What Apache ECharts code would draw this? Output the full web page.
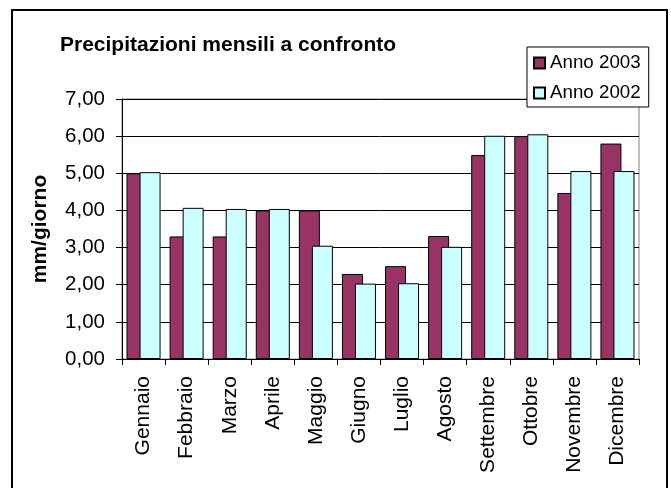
<!DOCTYPE html>
<html>
<head>
<meta charset="utf-8">
<title>Precipitazioni mensili a confronto</title>
<script src="https://cdn.jsdelivr.net/npm/echarts@6/dist/echarts.min.js"></script>
<style>
  html, body { margin: 0; padding: 0; background: #fff; }
  #main { width: 671px; height: 488px; }
</style>
</head>
<body>
<div id="main"></div>
<script>
// mesi
var mesi = ['Gennaio', 'Febbraio', 'Marzo', 'Aprile', 'Maggio', 'Giugno',
  'Luglio', 'Agosto', 'Settembre', 'Ottobre', 'Novembre', 'Dicembre'];
// mm/giorno
var anno2003 = [5.00, 3.30, 3.30, 4.00, 4.00, 2.29, 2.50, 3.31, 5.49, 6.00, 4.47, 5.80];
var anno2002 = [5.03, 4.07, 4.04, 4.04, 3.05, 2.03, 2.04, 3.02, 6.01, 6.05, 5.06, 5.06];
var yTicks = [0, 7, 1]; // min, max, passo

var font = 'Liberation Sans, Arial, sans-serif';
var myChart = echarts.init(document.getElementById('main'));

var option = {
  backgroundColor: '#fff',
  animation: false,
  title: {
    text: 'Precipitazioni mensili a confronto',
    left: 60,
    top: 35,
    padding: 0,
    textStyle: { fontFamily: font, fontSize: 21, fontWeight: 'bold', color: '#000' }
  },
  legend: {
    orient: 'vertical',
    left: 527,
    top: 47,
    padding: [6, 8, 4, 6],
    itemGap: 10,
    itemWidth: 11,
    itemHeight: 11,
    icon: 'rect',
    backgroundColor: '#fff',
    borderColor: '#000',
    borderWidth: 1,
    textStyle: { fontFamily: font, fontSize: 18.75, color: '#000', lineHeight: 20 },
    data: ['Anno 2003', 'Anno 2002']
  },
  grid: {
    left: 122,
    top: 99,
    right: 32,
    bottom: 129,
    show: true,
    borderColor: '#808080',
    borderWidth: 1,
    backgroundColor: 'transparent'
  },
  xAxis: {
    type: 'category',
    data: mesi,
    axisLine: { lineStyle: { color: '#000', width: 1 } },
    axisTick: { show: true, length: 6, lineStyle: { color: '#000' } },
    axisLabel: {
      rotate: 90,
      margin: 17,
      interval: 0,
      fontFamily: font,
      fontSize: 21,
      color: '#000'
    },
    splitLine: { show: false }
  },
  yAxis: {
    type: 'value',
    min: yTicks[0],
    max: yTicks[1],
    interval: yTicks[2],
    name: 'mm/giorno',
    nameLocation: 'middle',
    nameGap: 71,
    nameTextStyle: { fontFamily: font, fontSize: 21, fontWeight: 'bold', color: '#000' },
    axisLine: { show: true, lineStyle: { color: '#000', width: 1 } },
    axisTick: { show: true, length: 6, lineStyle: { color: '#000' } },
    axisLabel: {
      margin: 17,
      fontFamily: font,
      fontSize: 20.5,
      color: '#000',
      formatter: function (v) { return v.toFixed(2).replace('.', ','); }
    },
    splitLine: { show: true, lineStyle: { color: '#000', width: 1 } }
  },
  series: [
    {
      name: 'Anno 2003',
      type: 'bar',
      data: anno2003,
      barWidth: 21,
      barGap: '-38%',
      itemStyle: { color: '#993366', borderColor: '#000', borderWidth: 1 }
    },
    {
      name: 'Anno 2002',
      type: 'bar',
      data: anno2002,
      barWidth: 21,
      barGap: '-38%',
      itemStyle: { color: '#ccffff', borderColor: '#000', borderWidth: 1 }
    }
  ],
  graphic: [
    {
      type: 'rect',
      silent: true,
      shape: { x: 12, y: 10, width: 655, height: 490 },
      style: { fill: 'none', stroke: '#000', lineWidth: 2 }
    }
  ]
};

myChart.setOption(option);
</script>
</body>
</html>
